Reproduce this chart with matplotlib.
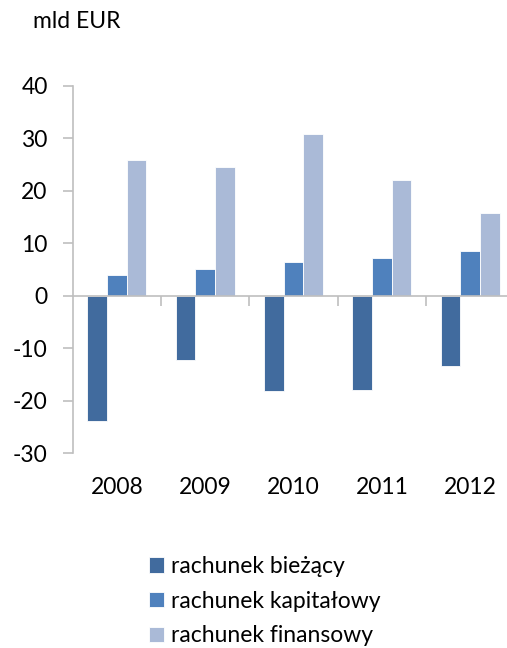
import numpy as np
import matplotlib.pyplot as plt

plt.rcParams['font.family'] = ['Lato', 'DejaVu Sans']
plt.rcParams['axes.unicode_minus'] = False

years = ['2008', '2009', '2010', '2011', '2012']
biezacy = [-23.9, -12.2, -18.2, -18.0, -13.4]
kapitalowy = [4.0, 5.1, 6.4, 7.2, 8.5]
finansowy = [25.9, 24.6, 30.9, 22.0, 15.8]

series = [('rachunek bieżący', biezacy, '#416B9E'),
          ('rachunek kapitałowy', kapitalowy, '#4F81BD'),
          ('rachunek finansowy', finansowy, '#AABAD7')]

fig = plt.figure(figsize=(5.07, 6.48), dpi=100)
ax = fig.add_axes([0.1434, 0.3005, 1.0144 - 0.1434, 0.8677 - 0.3005])

x = np.arange(len(years))
w = 1 / 4.5
for i, (name, vals, col) in enumerate(series):
    ax.bar(x + (i - 1) * w, vals, w, color=col, edgecolor='white', linewidth=0.6, label=name)

ax.set_xlim(-0.5, len(years) - 0.5)
ax.set_ylim(-30, 40)
ax.set_yticks(range(-30, 41, 10))

grey = '#BFBFBF'
for s in ['top', 'right']:
    ax.spines[s].set_visible(False)
ax.spines['left'].set_color(grey)
ax.spines['left'].set_linewidth(1.2)
ax.spines['bottom'].set_position(('data', 0))
ax.spines['bottom'].set_color(grey)
ax.spines['bottom'].set_linewidth(1.2)

ax.set_xticks(x)
ax.set_xticks(x + 0.5, minor=True)
ax.tick_params(axis='x', which='major', length=0, labelbottom=False)
ax.tick_params(axis='x', which='minor', length=7, width=1.2, color=grey, direction='out')
ax.tick_params(axis='y', length=7, width=1.2, color=grey, pad=11, labelsize=16.5)

sec = ax.secondary_xaxis('bottom')
sec.set_xticks(x, labels=years)
sec.tick_params(length=0, pad=17, labelsize=16.5)
sec.spines['bottom'].set_visible(False)

fig.text(33 / 507, 1 - 22 / 648, 'mld EUR', fontsize=16.5, va='center', ha='left')

fig.legend(loc='upper left', bbox_to_anchor=(149 / 507, 1 - 556 / 648), frameon=False,
           fontsize=16.5, handlelength=0.66, handleheight=0.66, handletextpad=0.3,
           labelspacing=0.6, borderpad=0, borderaxespad=0)

fig.savefig('out.png', dpi=100)
